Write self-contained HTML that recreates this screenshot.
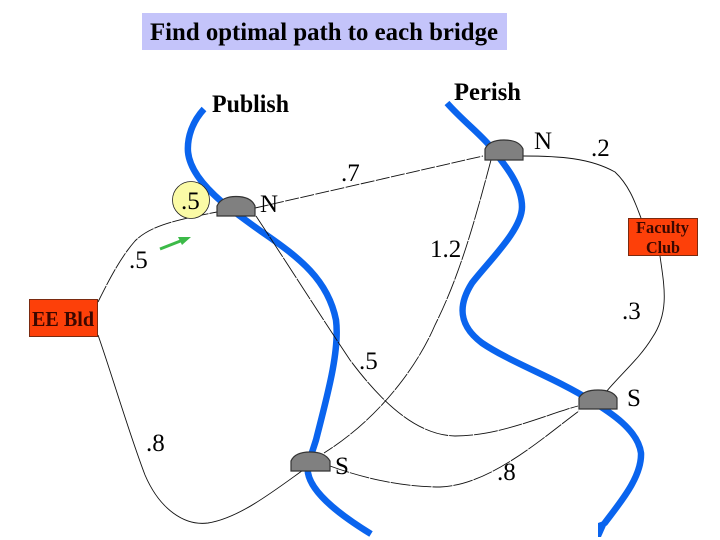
<!DOCTYPE html>
<html><head><meta charset="utf-8">
<style>html,body{margin:0;padding:0;background:#fff}svg{display:block}
text{font-family:"Liberation Serif",serif;fill:#000}
.b{font-weight:bold}
.r{fill:#3a0800}
</style></head><body>
<svg width="720" height="540" viewBox="0 0 720 540" xmlns="http://www.w3.org/2000/svg">
<rect width="720" height="540" fill="#fff"/>
<rect x="142" y="13" width="365" height="37" fill="#c4c4fa"/>
<text x="150" y="40" class="b" font-size="25" textLength="348" lengthAdjust="spacingAndGlyphs">Find optimal path to each bridge</text>
<text x="212" y="112" class="b" font-size="25" textLength="77" lengthAdjust="spacingAndGlyphs">Publish</text>
<text x="454" y="100" class="b" font-size="25" textLength="67" lengthAdjust="spacingAndGlyphs">Perish</text>

<g fill="none" stroke="#0a64ee" stroke-width="6.500">
<path d="M204 109C192 122 187 138 188 152C190 172 208 190 222 202C234 212 248 222 262 232C300 258 328 280 336 320C340 352 326 400 316 440C311 456 307 465 308 473C312 495 345 518 371 534"/>
<path d="M447 103C462 120 478 132 490 146C505 165 522 185 522 207C522 230 488 262 472 283C458 305 458 325 482 343C510 362 555 378 590 400C610 412 638 430 641 453C642 478 618 505 604 524"/>
</g>
<path d="M598 523L609 519L601 537L598 537Z" fill="#0a64ee"/>

<g fill="none" stroke="#111" stroke-width="0.9">
<path d="M98 302C108 282 120 258 135 241C150 226 175 220 217 212" stroke-dasharray="18 1"/>
<path d="M98 335C112 375 128 430 145 475C160 510 185 526 208 523C240 518 275 490 306 468"/>
<path d="M255 208L483 156" stroke-dasharray="14 1.500"/>
<path d="M256 216C285 260 320 315 350 360C380 400 415 435 455 436C500 436 545 415 578 406" stroke-dasharray="24 1"/>
<path d="M491 160C475 220 460 275 435 325C418 365 380 418 324 453" stroke-dasharray="20 1"/>
<path d="M330 466C360 477 400 487 440 487C490 485 540 440 579 411" stroke-dasharray="20 1"/>
<path d="M523 156C560 156 590 158 615 172C630 186 636 205 641 218"/>
<path d="M660 256C664 285 670 312 652 338C640 358 620 375 606 392"/>
</g>

<circle cx="191" cy="200" r="18.500" fill="#fbfba6" stroke="#222" stroke-width="0.8"/>
<text x="181" y="209" font-size="25">.5</text>

<g fill="#808080" stroke="#333" stroke-width="1.2">
<path d="M217 216V206C220 199 228 196.500 236 196.500C245 196.500 252 199 255 206V216Z"/>
<path d="M485 160V149C488 142 496 140 504 140C513 140 520 142 523 149V160Z"/>
<path d="M291 471V461C294 454 302 452 310 452C319 452 326 454 330 461V471Z"/>
<path d="M579 409V398C582 392 590 390 598 390C607 390 614 392 617 398V409Z"/>
</g>

<path d="M160 249L183 240" stroke="#3cba48" stroke-width="3" fill="none"/>
<path d="M191 237L178 237L182 245Z" fill="#3cba48"/>

<rect x="29.500" y="299.500" width="68" height="37" fill="#fd4009" stroke="#7a2a10"/>
<text x="32" y="326" class="b r" font-size="21" textLength="62" lengthAdjust="spacingAndGlyphs">EE Bld</text>
<rect x="628.500" y="218.500" width="69" height="37" fill="#fd4009" stroke="#7a2a10"/>
<text x="636" y="233" class="b r" font-size="16.500" textLength="53" lengthAdjust="spacingAndGlyphs">Faculty</text>
<text x="646" y="253" class="b r" font-size="16.500" textLength="34" lengthAdjust="spacingAndGlyphs">Club</text>

<g font-size="25">
<text x="260" y="212">N</text>
<text x="534" y="149">N</text>
<text x="335" y="474">S</text>
<text x="627" y="406">S</text>
<text x="341" y="181">.7</text>
<text x="591" y="156">.2</text>
<text x="129" y="268">.5</text>
<text x="430" y="257">1.2</text>
<text x="622" y="319">.3</text>
<text x="359" y="369">.5</text>
<text x="146" y="451">.8</text>
<text x="497" y="480">.8</text>
</g>
</svg>
</body></html>
